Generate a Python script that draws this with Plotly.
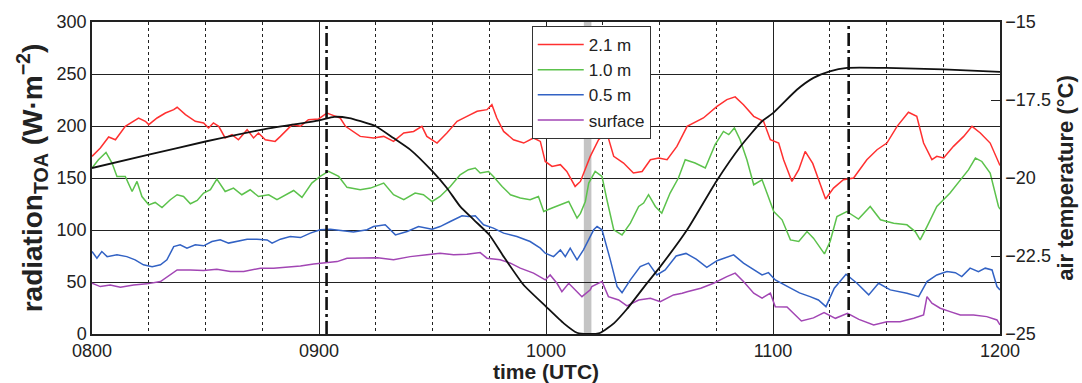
import plotly.graph_objects as go

# ---- data (time in minutes after 0800 UTC) ----
tick_vals = [0, 60, 120, 180, 240]
tick_text = ["0800", "0900", "1000", "1100", "1200"]

t_21 = [0, 2.2, 4.4, 6.2, 8.8, 12.3, 14.1, 15, 17.2, 19.4, 21.6, 22.5, 24.7, 27.3, 29.5, 30.8, 32.1, 33.5, 35.2, 37,
        38.7, 41, 42.7, 44, 45.8, 48.4, 49.8, 51.1, 52.9, 55.1, 57.2, 59.9, 62.1, 63.9, 65.6, 67, 70.9, 74.4, 77.1,
        79.7, 82.4, 85, 87.2, 88.5, 91.2, 93.8, 96.5, 99.1, 101.8, 104.4, 105.7, 107, 108.8, 111.4, 114.1, 116.7,
        118.5, 119.8, 121.6, 123.8, 125.5, 127.7, 129.1, 131.7, 133.9, 136.1, 137.9, 140.5, 143.1, 145.4, 147.6,
        149.8, 152, 154.6, 157.3, 161.6, 165.2, 167.8, 170, 172.2, 174.9, 177.5, 179.3, 181.5, 182.8, 185, 186.8,
        188.5, 190.5, 193.9, 196, 198.6, 201.3, 204.8, 207.5, 210.1, 212.8, 215.8, 218, 219.8, 222, 223.3, 225.1,
        227.7, 230.4, 232.6, 234.8, 237.4, 239.6, 240]
v_21 = [170.8, 178.8, 189.4, 186.8, 199.7, 207.7, 204.5, 201.3, 207.7, 212.5, 215.7, 218, 210.9, 204.5, 202.9, 198.1,
        202.9, 199.7, 188.5, 191.7, 186.8, 196.5, 188.5, 193.3, 186.8, 185.2, 190, 194.8, 201.3, 199.7, 206.1, 206.8,
        212.5, 210, 207.7, 199.7, 190, 188.5, 190, 185.2, 193.3, 194.8, 199.7, 190, 183.6, 193.3, 204.5, 209.3, 214.1,
        215.7, 220.5, 207.7, 194.8, 186.8, 183.6, 188.5, 185.2, 165.9, 161.1, 162.8, 156.3, 141.9, 146.7, 170.8,
        186.8, 193.3, 170.8, 164.4, 154.8, 156.3, 167.6, 169.2, 167.6, 180.4, 199.7, 207.7, 218.9, 225.4, 228,
        220.5, 209.3, 204.5, 186.8, 183.6, 167.6, 146.7, 158, 175.6, 164, 129.8, 140.3, 148.3, 150, 167.6, 177.2,
        183.6, 199.7, 213.2, 209.3, 183.6, 167.6, 170.8, 169.2, 180.4, 190, 199.7, 193.3, 183.6, 165.9, 162]

t_10 = [0, 1.7, 3.7, 5.3, 6.6, 8.8, 10.6, 11.9, 13.2, 15, 16.7, 18.5, 20.7, 22.5, 24.2, 26, 27.8, 29.5, 31.3, 33,
        35.2, 37.4, 39.6, 41.8, 44, 46.7, 48.9, 51.1, 53.3, 55.5, 58.1, 60.3, 62.5, 65.2, 67.4, 70.9, 73.6, 77.1,
        79.7, 82.4, 85.4, 87.6, 89.9, 92, 94.7, 97.3, 99.5, 101.3, 102.6, 104.8, 106.1, 108.4, 110.6, 113.2, 115.8,
        118, 119.4, 121.6, 123.8, 126, 128.2, 129.1, 130.4, 131.3, 133, 134.8, 136.1, 137.9, 140.1, 142.3, 144.5,
        145.8, 147.1, 148.9, 150.6, 152.8, 155, 156.8, 159.4, 162.1, 164.7, 166.9, 168.3, 169.8, 171.3, 173.1,
        174.9, 177.1, 178.4, 180.2, 182.4, 184.6, 186.8, 189, 190.7, 193.6, 195.1, 196.9, 199.5, 202.6, 205.7,
        208.4, 211.9, 215.4, 217.6, 218.9, 220.7, 223.3, 226.8, 229.5, 231.7, 233.5, 235.2, 237.4, 239.6, 240]
v_10 = [159.6, 167.6, 174.6, 164.4, 151.5, 151.5, 137, 146.7, 132.2, 124.2, 126.5, 121.6, 129.1, 133.9, 132.2, 125.2,
        128.4, 135.5, 138.7, 149, 137, 140.3, 133.9, 138.7, 132.2, 133.9, 129.1, 133.9, 138, 131.3, 145.1, 151.5,
        156.3, 151.5, 141, 138.7, 140.3, 145.1, 133.9, 129.1, 135.5, 133.9, 127.4, 132.2, 141.9, 153.1, 158, 159.6,
        154.8, 156.3, 151.5, 141.9, 133.9, 130.7, 129.1, 132.2, 117.8, 121.1, 124.2, 127.4, 111.4, 116, 127.4, 145.1,
        156.3, 151.5, 129.1, 100.2, 95.3, 106.6, 122.6, 125.9, 133.9, 122.6, 116.2, 135.5, 150, 167.6, 164.4, 159.6,
        182, 194.8, 191.7, 198.1, 186.8, 167.6, 143.5, 148.3, 135.5, 117.8, 109.8, 90.5, 88.9, 98.5, 92.2, 77,
        88.9, 113, 117.8, 110.5, 122.6, 109.8, 106.6, 105, 98.5, 90.5, 103.3, 122.6, 135.5, 148.3, 158, 169.2, 165.9,
        154.8, 122.6, 120]

t_05 = [0, 1.3, 2.6, 4, 6.6, 9.2, 11.4, 13.6, 15.9, 18.1, 19.8, 21.6, 23.3, 25.1, 27.3, 29.5, 31.7, 33.9, 36.1, 38.3,
        41, 43.6, 46.3, 47.6, 49.8, 52.4, 55.1, 57.7, 60.3, 63, 66.5, 69.1, 72.7, 74.4, 77.5, 80.2, 83.3, 86.3, 89.9,
        92, 94.7, 97.8, 99.5, 101.3, 103.5, 106.1, 108.8, 112.3, 115.8, 118.5, 119.8, 122, 123.8, 125.1, 126.4,
        128.2, 129.9, 132.6, 133.5, 134.8, 137, 138.8, 140.1, 142.3, 144.9, 147.1, 149.3, 151.5, 154.4, 157, 159.7,
        162.5, 165.2, 167.8, 169.6, 172.2, 174.9, 177.1, 178.8, 180.6, 183.9, 187, 189.8, 192, 194, 196.2, 199.3,
        201.3, 202.2, 205.3, 207.9, 211, 215.4, 218.5, 220.7, 223.3, 226, 228.2, 229.9, 232.1, 234.3, 236.1, 237.9,
        239.2, 240]
v_05 = [79.3, 72.9, 79.3, 74.4, 76.1, 74.4, 71.3, 66.5, 64.8, 66.5, 71.3, 84.1, 85.7, 82.5, 85.7, 84.8, 88.9, 90.5,
        87.4, 88.9, 91.2, 91.2, 90.5, 87.4, 91.2, 93.7, 92.7, 97, 100.2, 100.8, 99.5, 98.2, 100.2, 103.3, 105, 95.3,
        98.5, 103.3, 100.8, 103.3, 108.2, 113.6, 113, 113.6, 105, 101.8, 97, 93.7, 88.9, 82.5, 77.7, 74.4, 80.9, 74.4,
        82.5, 71.3, 80.9, 100.2, 103.3, 100.2, 71.3, 45.6, 39.8, 52, 64.8, 68.1, 56.8, 61.6, 75, 77.5, 72, 64, 70.5,
        73.9, 76.1, 68.1, 61.6, 56.8, 59, 52, 45.5, 39.5, 35.9, 32.7, 26.3, 44, 57.5, 52, 48.8, 37.6, 48.8, 42.4,
        39.2, 35.9, 50.4, 56.8, 60, 59, 55.2, 63.3, 60, 63.3, 61.6, 45.6, 42.4]

t_sf = [0, 2.2, 4.8, 7.5, 11, 14.5, 18.1, 20.7, 22.5, 26, 29.5, 33, 36.6, 40.1, 44.5, 48, 51.5, 55.1, 58.6, 62.1,
        64.8, 67.4, 71.8, 75.5, 79.7, 84.1, 88.5, 92, 95.6, 99.1, 102.6, 104.4, 107.9, 110.6, 113.2, 116.7, 119.8,
        121.1, 122.9, 124.2, 126, 127.7, 129.5, 131.7, 132.1, 134.8, 136.5, 139.2, 141.4, 144.5, 147.6, 150.2,
        153.7, 156, 157.3, 160.9, 164.3, 167.8, 170, 172.2, 174.9, 177.1, 179.3, 180.6, 183.7, 187.5, 190.7, 193.5,
        196.5, 199.7, 202.7, 206.6, 210.1, 213.6, 217.2, 219.8, 220.7, 222, 224.2, 226.8, 229.5, 233, 236.5, 239.2,
        240]
v_sf = [48.8, 45.6, 47.2, 45, 47.2, 48.2, 50.4, 56.8, 61.6, 61.6, 61, 62.3, 60, 60, 63.3, 63.3, 64.2, 65.5, 67.4,
        68.7, 69.6, 72.9, 72.9, 73.4, 71.3, 74.4, 76.1, 77.7, 76.1, 76.8, 78.3, 72.9, 71.3, 68.1, 63.3, 58.5, 52,
        56.8, 48.8, 40.7, 48.8, 42.4, 35.9, 42.4, 45.6, 50.4, 35.9, 32.7, 27, 32.7, 34.4, 31.1, 37.6, 39.2, 40.7,
        44, 48.8, 55.2, 58.5, 50.4, 39.2, 34.4, 39.2, 26.3, 26, 12.5, 15.5, 20.7, 15.1, 19.9, 14, 8.7, 11.8, 11.8,
        15.1, 18.3, 35.9, 29.6, 24.8, 21.5, 18.3, 18.3, 16.7, 13.5, 8.7]

t_air = [0, 15, 30, 45, 60, 64, 68, 71, 75, 79.7, 84.1, 90, 93.8, 97.3, 101, 105, 108.8, 114.1, 120, 124.7, 128.2,
         131, 134.4, 138, 141.4, 146.7, 150.2, 157.3, 165, 171.4, 177.1, 180, 186.3, 190.7, 195, 199.6, 210, 225, 240]
v_air = [-19.68, -19.25, -18.83, -18.45, -18.15, -18.04, -18.08, -18.18, -18.34, -18.72, -19.09, -19.79, -20.32,
         -20.91, -21.35, -21.82, -22.52, -23.43, -24.12, -24.66, -24.96, -25.0, -24.96, -24.65, -24.2, -23.37,
         -22.84, -21.66, -20.11, -18.99, -18.18, -17.92, -17.17, -16.79, -16.58, -16.47, -16.47, -16.52, -16.6]

event_times = [62, 200]          # dash-dot markers
band_times = [130, 132]          # grey shaded interval

temp_ticks = [-25, -22.5, -20, -17.5, -15]
temp_text = ["\u221225", "\u221222.5", "\u221220", "\u221217.5", "\u221215"]

series = [("2.1 m", t_21, v_21, "#ff3030"),
          ("1.0 m", t_10, v_10, "#5cc24c"),
          ("0.5 m", t_05, v_05, "#3262c4"),
          ("surface", t_sf, v_sf, "#a246b4")]

FONT = "Liberation Sans, Arial, Helvetica, sans-serif"
INK = "#222222"

fig = go.Figure()
for name, t, v, c in series:
    fig.add_trace(go.Scatter(x=t, y=v, name=name, mode="lines",
                             line=dict(color=c, width=1.5)))
fig.add_trace(go.Scatter(x=t_air, y=v_air, name="air temperature", mode="lines", yaxis="y2",
                         showlegend=False, line=dict(color="#111111", width=1.8, shape="spline", smoothing=0.5)))

fig.add_shape(type="rect", xref="x", yref="paper", x0=band_times[0], x1=band_times[1], y0=0, y1=1,
              fillcolor="#c4c4c4", line=dict(width=0), layer="below")
for et in event_times:
    fig.add_shape(type="line", xref="x", yref="paper", x0=et, x1=et, y0=0, y1=1,
                  line=dict(color="#111111", width=2.6, dash="13px,4px,3px,4px"))

fig.update_layout(
    width=1082, height=383,
    margin=dict(l=92, r=82, t=22, b=49),
    paper_bgcolor="white", plot_bgcolor="white",
    font=dict(family=FONT, size=18, color=INK),
    showlegend=True,
    legend=dict(x=0.4843, y=0.987, xanchor="left", yanchor="top",
                bgcolor="white", bordercolor="#333333", borderwidth=1,
                font=dict(size=17), tracegroupgap=0, itemwidth=46),
    xaxis=dict(range=[0, 240], tickvals=tick_vals, ticktext=tick_text, ticks="", automargin=False,
               showgrid=True, gridcolor=INK, gridwidth=1.3,
               minor=dict(tick0=0, dtick=15, showgrid=True, griddash="dot", gridcolor=INK, gridwidth=1.3),
               showline=True, linecolor=INK, linewidth=1.5, mirror=True, zeroline=False,
               title=dict(text="<b>time (UTC)</b>", font=dict(size=21), standoff=6)),
    yaxis=dict(range=[0, 300], dtick=50, ticks="", showgrid=True, gridcolor=INK, gridwidth=1.3, automargin=False,
               showline=True, linecolor=INK, linewidth=1.5, mirror=True, zeroline=False,
               title=dict(text="<b>radiation<sub>TOA</sub> (W\u00b7m<sup>\u22122</sup>)</b>",
                          font=dict(size=28), standoff=6)),
    yaxis2=dict(range=[-25, -15], overlaying="y", side="right", tickvals=temp_ticks, ticktext=temp_text,
                ticks="inside", ticklen=9, tickcolor=INK, tickwidth=1.3, showgrid=False, zeroline=False,
                showline=True, linecolor=INK, linewidth=1.5, automargin=False,
                title=dict(text="<b>air temperature (\u00b0C)</b>", font=dict(size=22), standoff=8)),
)

fig.write_html("out.html", config={"displayModeBar": False},
               post_script="document.body.style.margin='0px';document.body.style.padding='0px';")
